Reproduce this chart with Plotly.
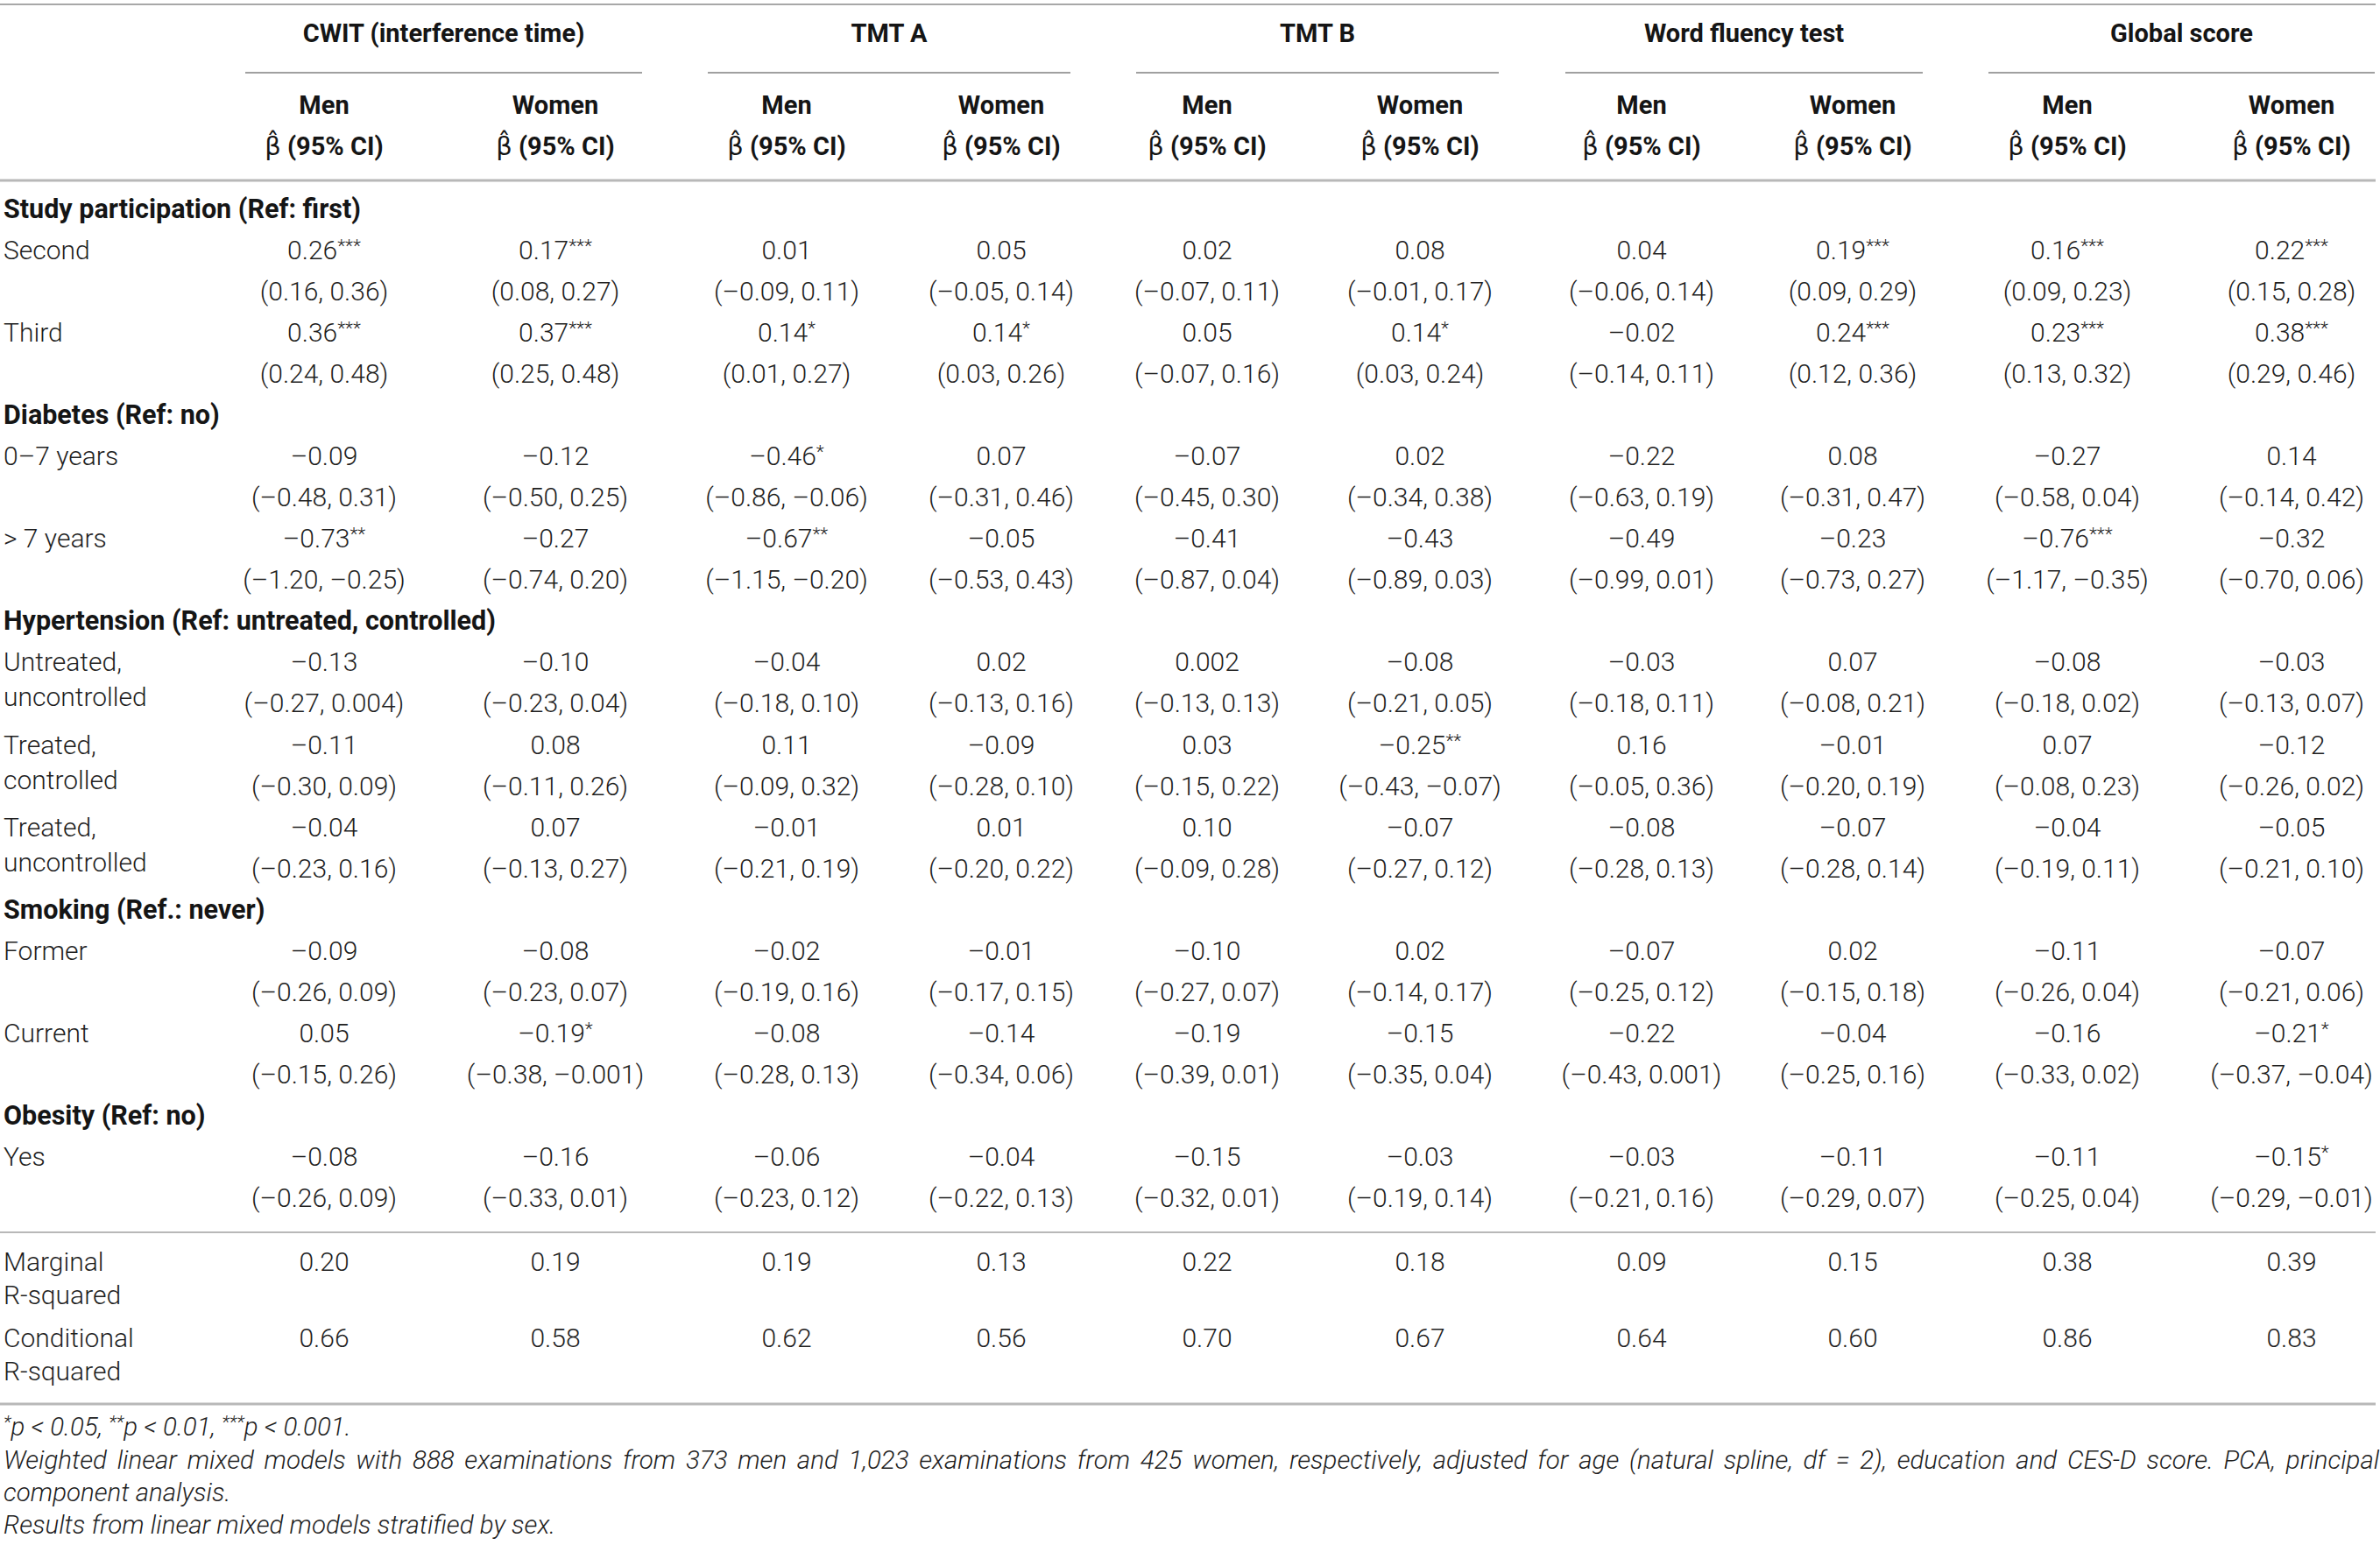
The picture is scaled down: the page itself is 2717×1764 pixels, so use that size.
import plotly.graph_objects as go

# ---------------- data ----------------
groups = ["CWIT (interference time)", "TMT A", "TMT B", "Word fluency test", "Global score"]
sexes = ["Men", "Women"]
stat_head = "β̂"
stat_tail = "(95% CI)"

sec_study = "Study participation (Ref: first)"
sec_diab = "Diabetes (Ref: no)"
sec_hyp = "Hypertension (Ref: untreated, controlled)"
sec_smk = "Smoking (Ref.: never)"
sec_obe = "Obesity (Ref: no)"

second_est = ["0.26***", "0.17***", "0.01", "0.05", "0.02", "0.08", "0.04", "0.19***", "0.16***", "0.22***"]
second_ci = ["(0.16, 0.36)", "(0.08, 0.27)", "(–0.09, 0.11)", "(–0.05, 0.14)", "(–0.07, 0.11)",
             "(–0.01, 0.17)", "(–0.06, 0.14)", "(0.09, 0.29)", "(0.09, 0.23)", "(0.15, 0.28)"]
third_est = ["0.36***", "0.37***", "0.14*", "0.14*", "0.05", "0.14*", "–0.02", "0.24***", "0.23***", "0.38***"]
third_ci = ["(0.24, 0.48)", "(0.25, 0.48)", "(0.01, 0.27)", "(0.03, 0.26)", "(–0.07, 0.16)",
            "(0.03, 0.24)", "(–0.14, 0.11)", "(0.12, 0.36)", "(0.13, 0.32)", "(0.29, 0.46)"]
d07_est = ["–0.09", "–0.12", "–0.46*", "0.07", "–0.07", "0.02", "–0.22", "0.08", "–0.27", "0.14"]
d07_ci = ["(–0.48, 0.31)", "(–0.50, 0.25)", "(–0.86, –0.06)", "(–0.31, 0.46)", "(–0.45, 0.30)",
          "(–0.34, 0.38)", "(–0.63, 0.19)", "(–0.31, 0.47)", "(–0.58, 0.04)", "(–0.14, 0.42)"]
d7p_est = ["–0.73**", "–0.27", "–0.67**", "–0.05", "–0.41", "–0.43", "–0.49", "–0.23", "–0.76***", "–0.32"]
d7p_ci = ["(–1.20, –0.25)", "(–0.74, 0.20)", "(–1.15, –0.20)", "(–0.53, 0.43)", "(–0.87, 0.04)",
          "(–0.89, 0.03)", "(–0.99, 0.01)", "(–0.73, 0.27)", "(–1.17, –0.35)", "(–0.70, 0.06)"]
uu_est = ["–0.13", "–0.10", "–0.04", "0.02", "0.002", "–0.08", "–0.03", "0.07", "–0.08", "–0.03"]
uu_ci = ["(–0.27, 0.004)", "(–0.23, 0.04)", "(–0.18, 0.10)", "(–0.13, 0.16)", "(–0.13, 0.13)",
         "(–0.21, 0.05)", "(–0.18, 0.11)", "(–0.08, 0.21)", "(–0.18, 0.02)", "(–0.13, 0.07)"]
tc_est = ["–0.11", "0.08", "0.11", "–0.09", "0.03", "–0.25**", "0.16", "–0.01", "0.07", "–0.12"]
tc_ci = ["(–0.30, 0.09)", "(–0.11, 0.26)", "(–0.09, 0.32)", "(–0.28, 0.10)", "(–0.15, 0.22)",
         "(–0.43, –0.07)", "(–0.05, 0.36)", "(–0.20, 0.19)", "(–0.08, 0.23)", "(–0.26, 0.02)"]
tu_est = ["–0.04", "0.07", "–0.01", "0.01", "0.10", "–0.07", "–0.08", "–0.07", "–0.04", "–0.05"]
tu_ci = ["(–0.23, 0.16)", "(–0.13, 0.27)", "(–0.21, 0.19)", "(–0.20, 0.22)", "(–0.09, 0.28)",
         "(–0.27, 0.12)", "(–0.28, 0.13)", "(–0.28, 0.14)", "(–0.19, 0.11)", "(–0.21, 0.10)"]
former_est = ["–0.09", "–0.08", "–0.02", "–0.01", "–0.10", "0.02", "–0.07", "0.02", "–0.11", "–0.07"]
former_ci = ["(–0.26, 0.09)", "(–0.23, 0.07)", "(–0.19, 0.16)", "(–0.17, 0.15)", "(–0.27, 0.07)",
             "(–0.14, 0.17)", "(–0.25, 0.12)", "(–0.15, 0.18)", "(–0.26, 0.04)", "(–0.21, 0.06)"]
current_est = ["0.05", "–0.19*", "–0.08", "–0.14", "–0.19", "–0.15", "–0.22", "–0.04", "–0.16", "–0.21*"]
current_ci = ["(–0.15, 0.26)", "(–0.38, –0.001)", "(–0.28, 0.13)", "(–0.34, 0.06)", "(–0.39, 0.01)",
              "(–0.35, 0.04)", "(–0.43, 0.001)", "(–0.25, 0.16)", "(–0.33, 0.02)", "(–0.37, –0.04)"]
obese_est = ["–0.08", "–0.16", "–0.06", "–0.04", "–0.15", "–0.03", "–0.03", "–0.11", "–0.11", "–0.15*"]
obese_ci = ["(–0.26, 0.09)", "(–0.33, 0.01)", "(–0.23, 0.12)", "(–0.22, 0.13)", "(–0.32, 0.01)",
            "(–0.19, 0.14)", "(–0.21, 0.16)", "(–0.29, 0.07)", "(–0.25, 0.04)", "(–0.29, –0.01)"]
marginal_r2 = ["0.20", "0.19", "0.19", "0.13", "0.22", "0.18", "0.09", "0.15", "0.38", "0.39"]
conditional_r2 = ["0.66", "0.58", "0.62", "0.56", "0.70", "0.67", "0.64", "0.60", "0.86", "0.83"]

footnotes = [
    "*p < 0.05, **p < 0.01, ***p < 0.001.",
    "Weighted linear mixed models with 888 examinations from 373 men and 1,023 examinations from 425 women, "
    "respectively, adjusted for age (natural spline, df = 2), education and CES-D score. PCA, principal",
    "component analysis.",
    "Results from linear mixed models stratified by sex.",
]
footnote_justified = [False, True, False, False]

# table body: section headers and item rows
body = [
    ("sec", sec_study),
    ("item", ["Second"], second_est, second_ci),
    ("item", ["Third"], third_est, third_ci),
    ("sec", sec_diab),
    ("item", ["0–7 years"], d07_est, d07_ci),
    ("item", ["> 7 years"], d7p_est, d7p_ci),
    ("sec", sec_hyp),
    ("item", ["Untreated,", "uncontrolled"], uu_est, uu_ci),
    ("item", ["Treated,", "controlled"], tc_est, tc_ci),
    ("item", ["Treated,", "uncontrolled"], tu_est, tu_ci),
    ("sec", sec_smk),
    ("item", ["Former"], former_est, former_ci),
    ("item", ["Current"], current_est, current_ci),
    ("sec", sec_obe),
    ("item", ["Yes"], obese_est, obese_ci),
]
fit_rows = [(["Marginal", "R-squared"], marginal_r2), (["Conditional", "R-squared"], conditional_r2)]

# ---------------- layout constants ----------------
W, H = 2717, 1764
COL_X = [370, 634, 898, 1143, 1378, 1621, 1874, 2115, 2360, 2616]
GROUP_SPAN = [(280, 733), (808, 1222), (1297, 1711), (1787, 2195), (2270, 2711)]
LEFT_X = 4
Y_TOPRULE, Y_GROUP, Y_UNDER, Y_SEX, Y_STAT, Y_HEADRULE = 5, 41, 83, 123, 170, 206
ROW0, STEP, LINE2 = 241, 47.08, 40
Y_MIDRULE, Y_FIT0, FIT_STEP, Y_BOTRULE = 1407, 1443, 87, 1603
Y_FOOT0, FOOT_STEP = 1632, 37.2

FONT = "Roboto"
BODY_SIZE = 30
BOLD_SIZE = 29
SEC_SIZE = 30.5
FOOT_SIZE = 29.5
BODY_COLOR = "#1f1f1f"
BOLD_COLOR = "#151515"
STAR_STYLE = "font-size:70%;baseline-shift:38%"


def stars(s):
    """Raise runs of significance stars (superscript look)."""
    out, i = "", 0
    while i < len(s):
        if s[i] == "*":
            j = i
            while j < len(s) and s[j] == "*":
                j += 1
            out += f'<span style="{STAR_STYLE}">{s[i:j]}</span>'
            i = j
        else:
            out += s[i]
            i += 1
    return out


# collect cells
val_x, val_y, val_t = [], [], []
lab_x, lab_y, lab_t = [], [], []
sec_x, sec_y, sec_t = [], [], []

r = 0
for row in body:
    y = ROW0 + r * STEP
    if row[0] == "sec":
        sec_x.append(LEFT_X); sec_y.append(y); sec_t.append(row[1])
        r += 1
    else:
        _, labels, est, ci = row
        for k, lab in enumerate(labels):
            lab_x.append(LEFT_X); lab_y.append(y + k * LINE2); lab_t.append(lab)
        for c, cx in enumerate(COL_X):
            val_x.append(cx); val_y.append(y); val_t.append(stars(est[c]))
            val_x.append(cx); val_y.append(y + STEP); val_t.append(ci[c])
        r += 2

for i, (labels, vals) in enumerate(fit_rows):
    y = Y_FIT0 + i * FIT_STEP
    for k, lab in enumerate(labels):
        lab_x.append(LEFT_X); lab_y.append(y + k * (LINE2 - 2)); lab_t.append(lab)
    for c, cx in enumerate(COL_X):
        val_x.append(cx); val_y.append(y); val_t.append(vals[c])

# header cells
grp_x = [(a + b) / 2 for a, b in GROUP_SPAN]
sex_x = COL_X
sex_t = [sexes[i % 2] for i in range(len(COL_X))]
stat_t = [f"<span style=\"font-family:'DejaVu Sans';font-weight:normal\">{stat_head}</span> <b>{stat_tail}</b>"
          for _ in COL_X]

foot_t = []
for t, j in zip(footnotes, footnote_justified):
    t = stars(t)
    foot_t.append(f'<span style="word-spacing:4.6px">{t}</span>' if j else t)

fig = go.Figure()


def text_trace(x, y, t, pos, size, color, weight=300, style="normal"):
    fig.add_trace(go.Scatter(
        x=x, y=y, text=t, mode="text", textposition=pos, hoverinfo="skip",
        textfont=dict(family=FONT, size=size, color=color, weight=weight, style=style),
        showlegend=False, cliponaxis=False))


text_trace(val_x, val_y, val_t, "middle center", BODY_SIZE, BODY_COLOR)
text_trace(lab_x, lab_y, lab_t, "middle right", BODY_SIZE, BODY_COLOR)
text_trace(sec_x, sec_y, sec_t, "middle right", SEC_SIZE, BOLD_COLOR, weight=700)
text_trace(grp_x, [Y_GROUP] * len(grp_x), groups, "middle center", BOLD_SIZE, BOLD_COLOR, weight=700)
text_trace(sex_x, [Y_SEX] * len(sex_x), sex_t, "middle center", BOLD_SIZE, BOLD_COLOR, weight=700)
text_trace(sex_x, [Y_STAT] * len(sex_x), stat_t, "middle center", BOLD_SIZE, BOLD_COLOR, weight=300)
text_trace([LEFT_X] * len(foot_t), [Y_FOOT0 + i * FOOT_STEP for i in range(len(foot_t))],
           foot_t, "middle right", FOOT_SIZE, BODY_COLOR, weight=300, style="italic")

# rules
shapes = []
for y, w, col in [(Y_TOPRULE, 2, "#a8a8a8"), (Y_HEADRULE, 3, "#b8b8b8"),
                  (Y_MIDRULE, 1.5, "#a0a0a0"), (Y_BOTRULE, 3, "#b8b8b8")]:
    shapes.append(dict(type="line", xref="x", yref="y", x0=0, x1=2712, y0=y, y1=y,
                       line=dict(color=col, width=w)))
for a, b in GROUP_SPAN:
    shapes.append(dict(type="line", xref="x", yref="y", x0=a, x1=b, y0=Y_UNDER, y1=Y_UNDER,
                       line=dict(color="#808080", width=1.5)))

fig.update_layout(
    width=W, height=H, margin=dict(l=0, r=0, t=0, b=0),
    paper_bgcolor="white", plot_bgcolor="white", shapes=shapes,
    xaxis=dict(range=[0, W], visible=False, fixedrange=True),
    yaxis=dict(range=[H, 0], visible=False, fixedrange=True),
)

fig.write_html("out.html", config={"displayModeBar": False},
               post_script="document.body.style.margin='0';")
